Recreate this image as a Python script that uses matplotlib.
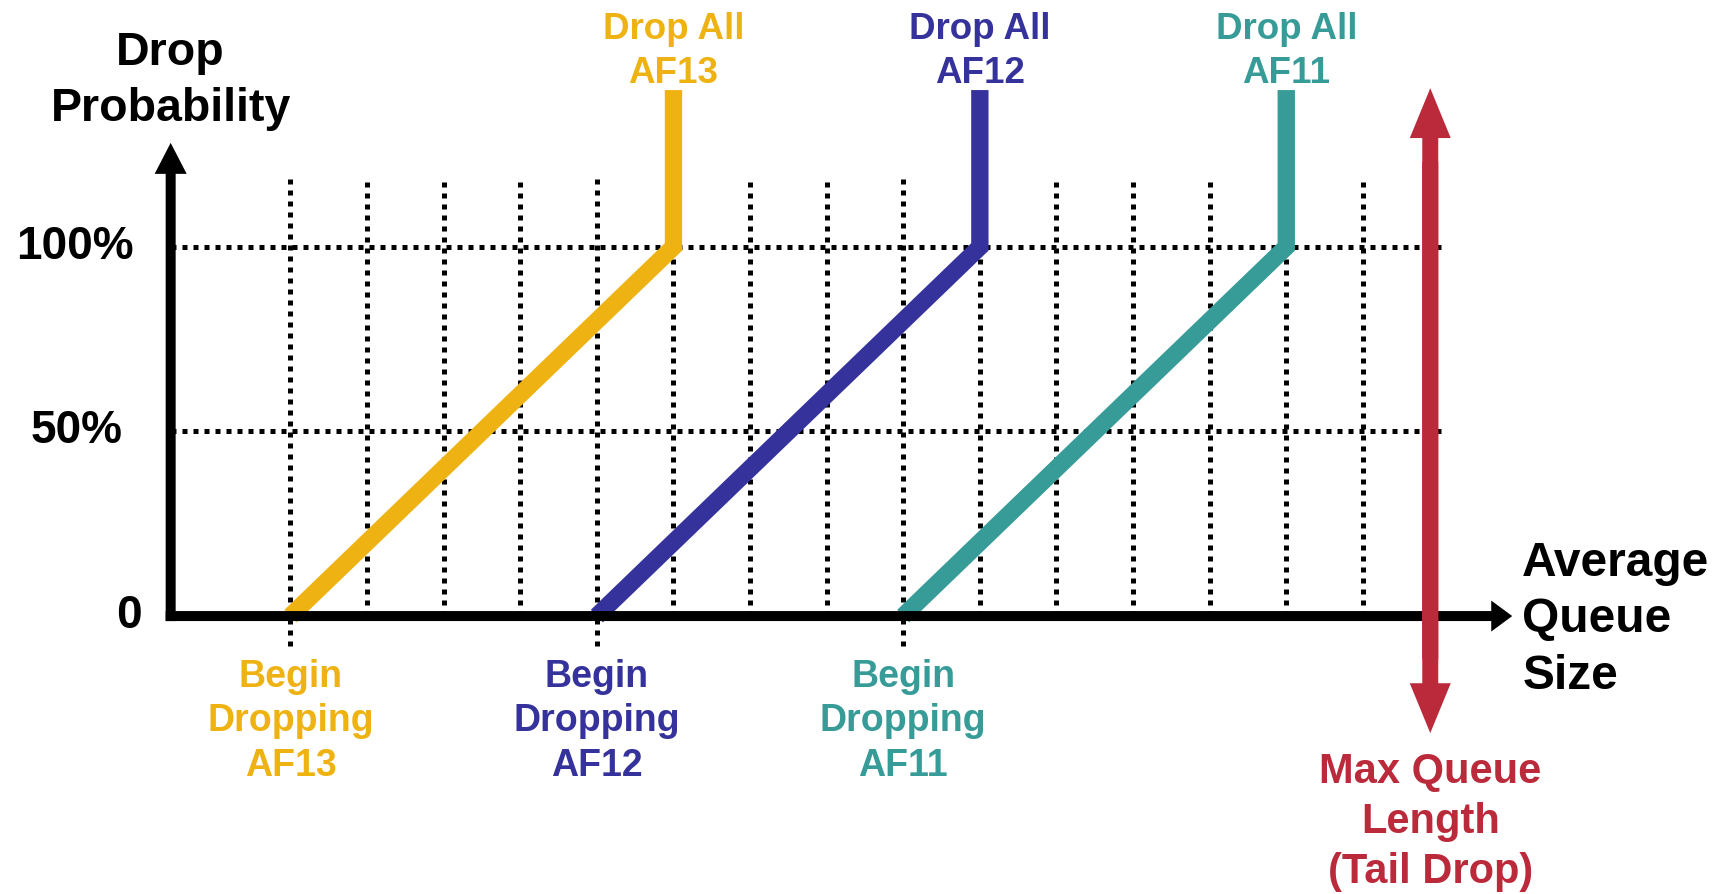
import matplotlib.pyplot as plt

plt.rcParams['font.family'] = ['Liberation Sans', 'DejaVu Sans']
plt.rcParams['font.weight'] = 'bold'

# queue size in grid steps, drop probability in percent
grid_x = list(range(1, 16))
grid_y = [50, 100]
classes = ['AF13', 'AF12', 'AF11']
colors = ['#EEB313', '#35339B', '#379B97']
min_th = [1, 5, 9]        # begin dropping
max_th = [6, 10, 14]      # 100% drop probability
drop_all_top = 142.5
max_queue = 15.88
prob_ticks = [0, 50, 100]
prob_labels = ['0', '50%', '100%']
prob_label_x = [-1.11, -1.79, -1.81]

red = '#BB2A3A'
y_axis_x = -0.564

fig = plt.figure(figsize=(17.29, 8.94), dpi=100)
ax = fig.add_axes([0, 0, 1, 1])
ax.set_xlim(-2.792, 19.78)
ax.set_ylim(-75.3, 166.9)
ax.axis('off')

dotted = dict(color='black', lw=3.6, linestyle=(0, (1.0, 1.2)), zorder=1)
for gx in grid_x:
    bottom = -8.1 if gx in min_th else 0
    ax.plot([gx, gx], [bottom, 119], **dotted)
for gy in grid_y:
    ax.plot([y_axis_x, 16.1], [gy, gy], **dotted)

# WRED profiles
for name, c, lo, hi in zip(classes, colors, min_th, max_th):
    ax.plot([lo, hi, hi], [0, 100, drop_all_top], color=c, lw=12.5,
            solid_capstyle='butt', solid_joinstyle='miter', zorder=2)
    ax.text(hi, 153, 'Drop All\n' + name, color=c, fontsize=26.5,
            ha='center', va='center', linespacing=1.32)
    ax.text(lo, -28.5, 'Begin\nDropping\n' + name, color=c, fontsize=27,
            ha='center', va='center', linespacing=1.3)

# axes with arrow heads
ax.arrow(y_axis_x, -1.36, 0, 128.2 + 1.36, width=0.1305, head_width=0.418,
         head_length=8.4, length_includes_head=True, color='black', lw=0, zorder=3)
ax.arrow(y_axis_x - 0.065, 0, 16.95 - y_axis_x + 0.065, 0, width=2.71,
         head_width=8.4, head_length=0.274, length_includes_head=True,
         color='black', lw=0, zorder=3)

for t, lab, lx in zip(prob_ticks, prob_labels, prob_label_x):
    ax.text(lx, t, lab, fontsize=33, ha='center', va='center')

ax.text(y_axis_x, 145, 'Drop\nProbability', fontsize=33.5, ha='center',
        va='center', linespacing=1.36)
ax.text(17.08, -1, 'Average\nQueue\nSize', fontsize=34.5, ha='left',
        va='center', linespacing=1.33)

# max queue length (tail drop), one arrow per direction overlapping in the middle
top, bottom = 143, -31.7
for start, end in ((bottom + 20, top), (top - 20, bottom)):
    ax.arrow(max_queue, start, 0, end - start, width=0.209, head_width=0.535,
             head_length=13.5, length_includes_head=True, color=red, lw=0,
             zorder=4)
ax.text(max_queue, -55.8, 'Max Queue\nLength\n(Tail Drop)', color=red,
        fontsize=30, ha='center', va='center', linespacing=1.31)

fig.savefig('out.png', dpi=100)
